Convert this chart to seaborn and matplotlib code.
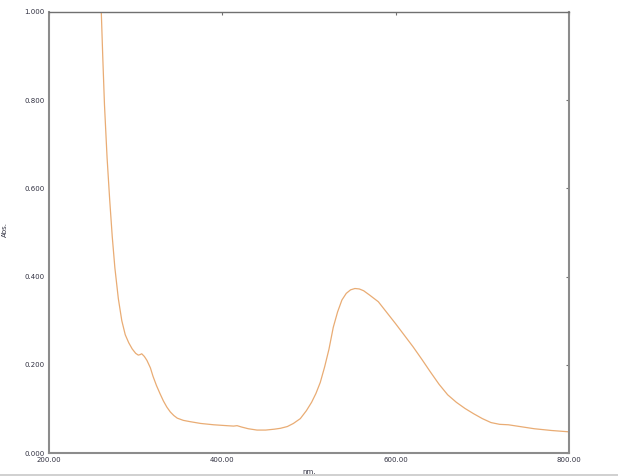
import matplotlib
matplotlib.use("Agg")
import matplotlib.pyplot as plt
from matplotlib.lines import Line2D
import seaborn as sns
import pandas as pd

wavelength_nm = [260, 262, 264, 267, 270, 273, 276, 280, 284, 288, 292, 296, 300, 303, 305, 307,
                 310, 313, 317, 320, 324, 328, 332, 336, 340, 344, 348, 355, 363, 375, 390, 405,
                 413, 417, 422, 430, 440, 450, 460, 467, 475, 482, 490, 497, 503, 508, 513, 518,
                 523, 528, 533, 538, 543, 548, 553, 558, 563, 570, 580, 590, 600, 610, 620, 630,
                 640, 650, 660, 670, 680, 690, 700, 710, 720, 730, 740, 750, 760, 770, 780, 790, 800]
absorbance = [1.02, 0.90, 0.79, 0.67, 0.575, 0.49, 0.42, 0.35, 0.30, 0.268, 0.25, 0.236, 0.226, 0.222, 0.223, 0.225,
              0.219, 0.21, 0.193, 0.174, 0.153, 0.135, 0.118, 0.104, 0.093, 0.085, 0.079, 0.074, 0.071, 0.067, 0.064, 0.062,
              0.061, 0.062, 0.059, 0.055, 0.052, 0.052, 0.054, 0.056, 0.060, 0.067, 0.078, 0.096, 0.115, 0.135, 0.16, 0.195,
              0.235, 0.285, 0.32, 0.347, 0.362, 0.370, 0.373, 0.372, 0.368, 0.358, 0.343, 0.318, 0.293, 0.267, 0.241, 0.213,
              0.184, 0.156, 0.132, 0.115, 0.101, 0.089, 0.078, 0.069, 0.065, 0.064, 0.061, 0.058, 0.055, 0.053, 0.051, 0.0495, 0.048]

x_ticks = [200, 400, 600, 800]
x_tick_labels = ["200.00", "400.00", "600.00", "800.00"]
y_ticks = [0.0, 0.2, 0.4, 0.6, 0.8, 1.0]
y_tick_labels = ["0.000", "0.200", "0.400", "0.600", "0.800", "1.000"]

df = pd.DataFrame({"nm": wavelength_nm, "Abs": absorbance})

sns.set_style("white")
plt.rcParams["font.family"] = ["DejaVu Sans"]

fig = plt.figure(figsize=(6.18, 4.76), dpi=100)
ax = fig.add_axes([49 / 618, 23 / 476, 520 / 618, 441 / 476])

sns.lineplot(data=df, x="nm", y="Abs", ax=ax, color="#E9AC74", linewidth=0.9)

ax.set_xlim(200, 800)
ax.set_ylim(0, 1.0)
ax.set_xticks(x_ticks)
ax.set_xticklabels(x_tick_labels)
ax.set_yticks(y_ticks)
ax.set_yticklabels(y_tick_labels)
ax.tick_params(direction="in", length=2.5, width=0.8, colors="#707070",
               labelsize=5, labelcolor="#303040", top=True, right=True, pad=3)

ax.set_xlabel("nm.", fontsize=5, color="#303040", labelpad=4)
ax.set_ylabel("Abs.", fontsize=5, color="#303040")
ax.yaxis.set_label_coords(-0.079, 0.506)

for side, sp in ax.spines.items():
    sp.set_visible(True)
    sp.set_color("#8c8c8c")
    sp.set_linewidth(1.5)
ax.spines["top"].set_linewidth(1.0)
ax.spines["top"].set_color("#707070")

fig.add_artist(Line2D([0, 1], [0.002, 0.002], transform=fig.transFigure, color="#c8c8c8", linewidth=1.2))

fig.savefig("out.png", dpi=100)
